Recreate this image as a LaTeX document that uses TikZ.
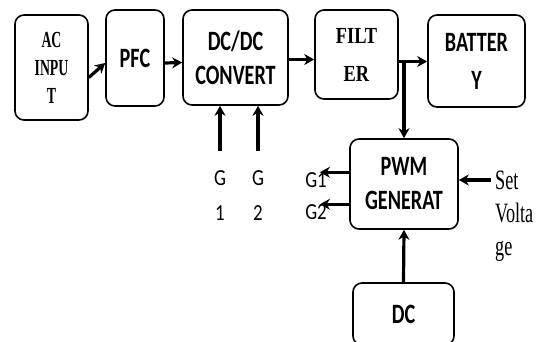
\documentclass[tikz,border=0pt]{standalone}
\usepackage{fontspec}
\setmainfont{Liberation Serif}
\newfontfamily\blocksans[FakeStretch=0.72]{Carlito}
\newfontfamily\gatesans[FakeStretch=0.82]{Carlito}
\newfontfamily\acserif[FakeStretch=0.6]{Liberation Serif}
\newfontfamily\filtserif[FakeStretch=0.8]{Liberation Serif}
\newfontfamily\setserif[FakeStretch=0.65]{Liberation Serif}
\usetikzlibrary{positioning,arrows.meta}

\tikzset{
  blk/.style={draw, line width=1.6pt, rounded corners=9pt, align=center, inner sep=0pt},
  arr/.style={-{Stealth[length=10pt,width=11pt]}, line width=3.2pt},
  sanstxt/.style={font=\blocksans\bfseries\fontsize{28}{34}\selectfont},
  gatetxt/.style={font=\gatesans\fontsize{23}{35}\selectfont, align=center, inner sep=2pt},
}

\begin{document}
\begin{tikzpicture}[x=1pt, y=-1pt]
\useasboundingbox (0,0) rectangle (539,341);

% blocks on the top row
\node[blk, font=\acserif\bfseries\fontsize{23}{28}\selectfont, minimum width=73pt, minimum height=105pt] (ac) at (51.5,67.5) {AC\\INPU\\T};
\node[blk, sanstxt, minimum width=58pt, minimum height=96pt] (pfc) at (135,58) {PFC};
\node[blk, sanstxt, minimum width=105pt, minimum height=95pt] (dcdc) at (235.5,57.5) {DC/DC\\CONVERT};
\node[blk, font=\filtserif\bfseries\fontsize{23}{38}\selectfont, minimum width=83pt, minimum height=89pt] (filter) at (356.5,54.5) {FILT\\ER};
\node[blk, minimum width=97pt, minimum height=92pt, font=\blocksans\bfseries\fontsize{28}{38}\selectfont] (battery) at (476.5,61) {BATTER\\Y};

% control part
\node[blk, sanstxt, minimum width=108pt, minimum height=90pt] (pwm) at (404,184) {PWM\\GENERAT};
\node[blk, sanstxt, minimum width=101pt, minimum height=62pt] (dc) at (403.5,314) {DC};

% gate labels
\node[gatetxt] (g1) at (220,196) {G\\1};
\node[gatetxt] (g2) at (258,196) {G\\2};
\node[gatetxt, inner sep=0pt] (o1) at (316,180) {G1};
\node[gatetxt, inner sep=0pt] (o2) at (316,212) {G2};
\node[font=\setserif\fontsize{28}{33}\selectfont, align=left, anchor=west, inner sep=4pt] (sv) at (491,216) {Set\\Volta\\ge};

% power path
\draw[arr] ([yshift=-10pt]ac.east) -- ([yshift=-5pt]pfc.west);
\draw[arr] ([yshift=-5pt]pfc.east) -- ([yshift=-5pt]dcdc.west);
\draw[arr] ([yshift=-2pt]dcdc.east) -- ([yshift=-2pt]dcdc.east -| filter.west);
\draw[arr] ([yshift=-7pt]filter.east) -- ([yshift=-7pt]filter.east -| battery.west);
\draw[arr] ([yshift=-7pt]filter.east -| pwm.north) -- (pwm.north);

% gate and control arrows
\draw[arr] ([yshift=18pt]g1.north) -- (g1.north |- dcdc.south);
\draw[arr] ([yshift=18pt]g2.north) -- (g2.north |- dcdc.south);
\draw[arr] (o1.north east -| pwm.west) -- ([xshift=-7pt]o1.north east);
\draw[arr] (o2.north east -| pwm.west) -- ([xshift=-7pt]o2.north east);
\draw[arr] ([yshift=4pt]pwm.east -| sv.west) -- ([yshift=4pt]pwm.east);
\draw[arr] (dc.north) -- (pwm.south);
\end{tikzpicture}
\end{document}
